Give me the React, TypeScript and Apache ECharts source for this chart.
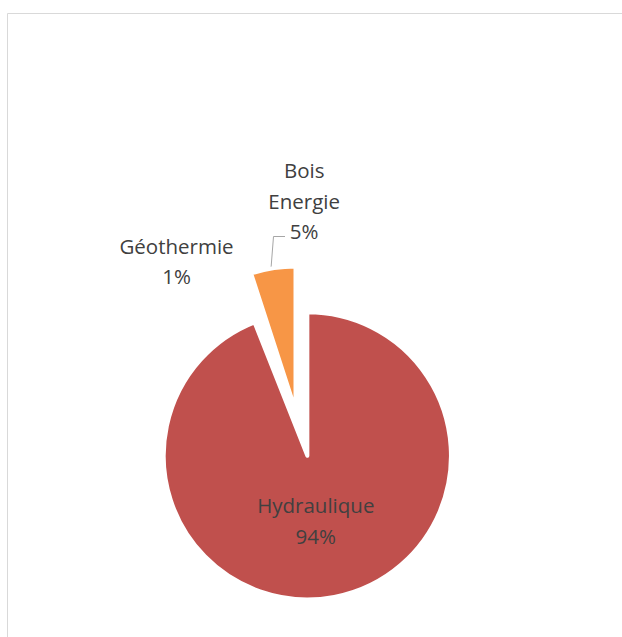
import React, { useEffect, useRef } from 'react';
import * as echarts from 'echarts';

// Data
const categories = ['Hydraulique', 'Géothermie', 'Bois Energie'];
const shares = [94, 1, 5];
const sliceColors = ['#C0504D', 'rgba(0,0,0,0)', '#F79646'];
const explodedSlice = 'Bois Energie';

// layout / styling
const PIE_CENTER: [number, number] = [307.35, 455.8];
const PIE_RADIUS = 143.6;
const EXPLODE_DIST = 47.3;
const EXPLODE_TILT_DEG = 5.5;
const labelCenters: Record<string, [number, number]> = {
  Hydraulique: [315.8, 520.3],
  'Géothermie': [176.5, 260.8],
  'Bois Energie': [304.2, 200.5],
};
const boisLeader: number[][] = [
  [271, 268.5],
  [273.5, 236.5],
  [285, 236.5],
];

const TRANSPARENT = 'rgba(0,0,0,0)';

export default function App() {
  const ref = useRef<HTMLDivElement>(null);

  useEffect(() => {
    if (!ref.current) return;
    const chart = echarts.init(ref.current, undefined, { renderer: 'svg' });

    // mid-angle of the exploded slice (start at 12 o'clock, clockwise)
    const total = shares.reduce((a, b) => a + b, 0);
    const ei = categories.indexOf(explodedSlice);
    const before = shares.slice(0, ei).reduce((a, b) => a + b, 0);
    const midFrac = (before + shares[ei] / 2) / total;
    const midRad = (90 - midFrac * 360 + EXPLODE_TILT_DEG) * (Math.PI / 180);
    const explodedCenter = [
      PIE_CENTER[0] + EXPLODE_DIST * Math.cos(midRad),
      PIE_CENTER[1] - EXPLODE_DIST * Math.sin(midRad),
    ];

    const makeData = (visible: (name: string) => boolean) =>
      categories.map((name, i) => {
        const vis = visible(name) && sliceColors[i] !== TRANSPARENT;
        const showLabel = visible(name);
        return {
          name,
          value: shares[i],
          itemStyle: vis
            ? { color: sliceColors[i], borderColor: '#ffffff', borderWidth: 4 }
            : { color: TRANSPARENT, borderColor: TRANSPARENT, borderWidth: 0 },
          label: {
            show: showLabel,
            position: i === 0 ? 'inside' : 'outside',
          },
          labelLine: { show: showLabel && name === explodedSlice },
        };
      });

    const common = {
      type: 'pie',
      radius: [0, PIE_RADIUS],
      startAngle: 90,
      clockwise: true,
      percentPrecision: 0,
      avoidLabelOverlap: false,
      silent: true,
      emphasis: { disabled: true },
      label: {
        color: '#404040',
        fontFamily: '"Open Sans", sans-serif',
        fontSize: 20.5,
        lineHeight: 30.5,
        align: 'center',
        formatter: (p: any) => `${String(p.name).replace(' ', '\n')}\n${p.percent}%`,
      },
      labelLine: {
        lineStyle: { color: '#a6a6a6', width: 1 },
      },
      labelLayout: (params: any) => {
        const name = categories[params.dataIndex];
        const pos = labelCenters[name];
        const out: any = {
          x: pos[0],
          y: pos[1],
          align: 'center',
          verticalAlign: 'middle',
        };
        if (name === explodedSlice) out.labelLinePoints = boisLeader;
        return out;
      },
    };

    chart.setOption({
      animation: false,
      backgroundColor: '#ffffff',
      graphic: [
        {
          type: 'rect',
          z: -10,
          silent: true,
          shape: { x: 7.5, y: 13.5, width: 700, height: 700 },
          style: { fill: 'none', stroke: '#d9d9d9', lineWidth: 1 },
        },
      ],
      series: [
        {
          ...common,
          name: 'main',
          z: 2,
          center: PIE_CENTER,
          data: makeData((n) => n !== explodedSlice),
        },
        {
          ...common,
          name: 'exploded',
          z: 3,
          center: explodedCenter,
          data: makeData((n) => n === explodedSlice),
        },
      ],
    });
    return () => chart.dispose();
  }, []);

  return (
    <div
      ref={ref}
      style={{ position: 'fixed', left: 0, top: 0, width: 622, height: 637 }}
    />
  );
}
